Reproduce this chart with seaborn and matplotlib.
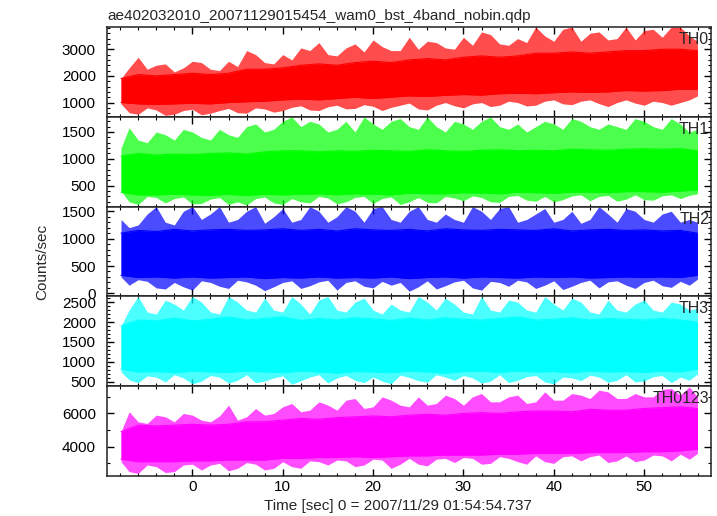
import matplotlib
matplotlib.use("Agg")
import matplotlib.pyplot as plt
from matplotlib.ticker import MultipleLocator
import seaborn as sns
import pandas as pd

title = "ae402032010_20071129015454_wam0_bst_4band_nobin.qdp"
x_label = "Time [sec] 0 = 2007/11/29 01:54:54.737"
y_label = "Counts/sec"

bands = ["TH0", "TH1", "TH2", "TH3", "TH0123"]
colors = ["#ff0000", "#00ff00", "#0000ff", "#00ffff", "#ff00ff"]

# time knots (sec): 1 s for the spike envelope, 2 s for the dense core
time_fine = [-7.9, -7, -6, -5, -4, -3, -2, -1, 0, 1, 2, 3, 4, 5, 6, 7, 8, 9, 10, 11, 12, 13, 14, 15, 16,
             17, 18, 19, 20, 21, 22, 23, 24, 25, 26, 27, 28, 29, 30, 31, 32, 33, 34, 35, 36, 37, 38, 39,
             40, 41, 42, 43, 44, 45, 46, 47, 48, 49, 50, 51, 52, 53, 54, 55, 55.9]
time_core = [-7.9, -6, -4, -2, 0, 2, 4, 6, 8, 10, 12, 14, 16, 18, 20, 22, 24,
             26, 28, 30, 32, 34, 36, 38, 40, 42, 44, 46, 48, 50, 52, 54, 55.9]

# TH0
th0_hi = [1900, 2300, 2700, 2250, 2400, 2450, 2150, 2300, 2550, 2500, 2250, 2200, 2550, 2350, 2950, 2800,
          2500, 2450, 2800, 2600, 3050, 2950, 3250, 2800, 2750, 3050, 3200, 2900, 3350, 3100, 2950, 2950,
          3450, 3000, 3300, 3250, 3050, 3000, 3450, 3150, 3650, 3550, 3200, 3150, 3400, 3250, 3835, 3500,
          3300, 3750, 3835, 3300, 3600, 3650, 3350, 3400, 3835, 3350, 3700, 3750, 3450, 3835, 3835, 3500, 3300]
th0_lo = [950, 620, 560, 800, 720, 520, 560, 700, 750, 540, 600, 700, 780, 620, 600, 800, 760, 640, 700, 820,
          880, 720, 700, 840, 900, 760, 780, 920, 860, 700, 820, 900, 980, 760, 720, 900, 1000, 880, 800, 950,
          1000, 850, 900, 1050, 1000, 870, 900, 1050, 1100, 950, 920, 1050, 1100, 960, 850, 1000, 1100, 980,
          900, 1050, 1000, 900, 1000, 1100, 1250]
th0_core_hi = [1900, 2050, 2000, 2050, 2100, 2050, 2100, 2250, 2250, 2300, 2400, 2450, 2400, 2500, 2550, 2500, 2600,
               2650, 2600, 2700, 2750, 2700, 2750, 2850, 2850, 2900, 2850, 2900, 2950, 2950, 3000, 3000, 2950]
th0_core_lo = [1000, 950, 930, 950, 970, 950, 1000, 1030, 1050, 1100, 1130, 1100, 1150, 1200, 1150, 1200, 1250,
               1230, 1270, 1300, 1280, 1330, 1350, 1330, 1370, 1400, 1380, 1400, 1450, 1430, 1450, 1500, 1500]

# TH1
th1_hi = [1200, 1580, 1350, 1300, 1500, 1450, 1350, 1550, 1500, 1400, 1350, 1550, 1450, 1400, 1600, 1650,
          1500, 1550, 1700, 1780, 1600, 1700, 1650, 1500, 1550, 1700, 1500, 1780, 1650, 1550, 1700, 1750,
          1600, 1550, 1780, 1600, 1500, 1700, 1650, 1550, 1700, 1780, 1600, 1550, 1650, 1500, 1600, 1700,
          1650, 1550, 1750, 1700, 1600, 1550, 1650, 1600, 1550, 1750, 1700, 1600, 1550, 1750, 1650, 1500, 1550]
th1_lo = [400, 200, 150, 300, 280, 180, 260, 290, 160, 170, 250, 280, 150, 200, 140, 260, 290, 180, 150, 260,
          200, 180, 300, 270, 160, 200, 280, 300, 170, 260, 290, 150, 200, 280, 190, 180, 300, 270, 220, 310,
          280, 200, 190, 300, 320, 230, 210, 300, 200, 240, 310, 330, 220, 300, 320, 210, 250, 330, 240, 230,
          310, 330, 260, 320, 350]
th1_core_hi = [1050, 1100, 1070, 1090, 1080, 1100, 1110, 1090, 1130, 1150, 1150, 1130, 1150, 1140, 1160, 1150, 1140,
               1170, 1150, 1140, 1160, 1170, 1150, 1160, 1150, 1180, 1170, 1160, 1180, 1190, 1180, 1190, 1150]
th1_core_lo = [380, 330, 330, 340, 330, 320, 340, 320, 340, 330, 340, 350, 330, 350, 340, 330, 360,
               350, 350, 370, 360, 350, 380, 370, 360, 380, 380, 370, 390, 390, 380, 400, 420]

# TH2
th2_hi = [1350, 1200, 1250, 1450, 1585, 1300, 1250, 1500, 1585, 1350, 1450, 1585, 1300, 1350, 1500, 1585,
          1280, 1400, 1550, 1300, 1350, 1585, 1500, 1300, 1400, 1585, 1500, 1300, 1550, 1585, 1350, 1300,
          1500, 1585, 1350, 1300, 1450, 1350, 1300, 1585, 1500, 1350, 1550, 1585, 1300, 1350, 1450, 1550,
          1300, 1350, 1500, 1280, 1350, 1585, 1450, 1300, 1550, 1500, 1350, 1300, 1450, 1500, 1300, 1350, 1300]
th2_lo = [300, 150, 250, 220, 100, 80, 200, 120, 60, 230, 200, 130, 90, 240, 210, 150, 50, 120, 200, 230,
          90, 140, 210, 240, 60, 200, 230, 130, 100, 220, 150, 200, 40, 120, 230, 80, 140, 210, 240, 100,
          60, 220, 200, 130, 240, 210, 90, 150, 230, 70, 130, 200, 240, 100, 210, 230, 150, 90, 200, 240,
          140, 110, 220, 150, 260]
th2_core_hi = [1100, 1150, 1130, 1170, 1140, 1160, 1170, 1150, 1160, 1180, 1150, 1170, 1140, 1180, 1160, 1150, 1170,
               1140, 1180, 1160, 1150, 1170, 1160, 1150, 1180, 1140, 1160, 1170, 1150, 1160, 1140, 1150, 1100]
th2_core_lo = [330, 290, 300, 280, 300, 280, 290, 300, 270, 290, 280, 300, 280, 290, 280, 300, 270,
               290, 300, 280, 300, 290, 280, 300, 290, 300, 280, 290, 300, 290, 300, 290, 330]

# TH3
th3_hi = [1900, 2300, 2640, 2250, 2200, 2550, 2450, 2300, 2640, 2500, 2250, 2200, 2640, 2500, 2300, 2250,
          2600, 2300, 2250, 2640, 2450, 2200, 2550, 2640, 2300, 2250, 2500, 2600, 2300, 2200, 2450, 2300,
          2250, 2640, 2500, 2300, 2600, 2450, 2250, 2200, 2640, 2300, 2250, 2550, 2500, 2300, 2250, 2640,
          2450, 2300, 2600, 2500, 2250, 2200, 2550, 2300, 2250, 2450, 2550, 2300, 2250, 2500, 2450, 2300, 2350]
th3_lo = [750, 550, 480, 650, 620, 500, 680, 600, 450, 520, 660, 620, 470, 540, 680, 480, 520, 600, 650, 440,
          530, 620, 680, 470, 600, 660, 540, 480, 620, 520, 450, 670, 610, 530, 490, 680, 620, 540, 660, 600,
          470, 520, 680, 480, 540, 630, 660, 500, 450, 620, 600, 530, 670, 620, 490, 540, 680, 500, 520, 630,
          660, 480, 620, 540, 700]
th3_core_hi = [1900, 2050, 2030, 2100, 2030, 2070, 2130, 2050, 2090, 2130, 2040, 2090, 2050, 2110, 2080, 2040, 2100,
               2050, 2110, 2070, 2050, 2090, 2130, 2050, 2070, 2110, 2050, 2090, 2070, 2050, 2090, 2050, 2000]
th3_core_lo = [820, 750, 760, 730, 770, 750, 740, 770, 750, 730, 770, 750, 720, 760, 750, 730, 770,
               750, 720, 760, 770, 740, 770, 750, 760, 730, 770, 750, 760, 740, 770, 750, 820]

# TH0123 (sum of the four bands)
th0123_hi = [4900, 6100, 5500, 5400, 5900, 5800, 5500, 6000, 5900, 5600, 5500, 5850, 6500, 5600, 5800, 6300,
             5900, 6000, 6400, 6600, 6100, 6200, 6700, 6500, 6200, 6800, 6900, 6300, 6400, 7000, 6800, 6500,
             6400, 7000, 6500, 6600, 7100, 6900, 6500, 7000, 7200, 6700, 6700, 7000, 7100, 6600, 6700, 7300,
             6800, 6800, 7200, 7100, 6900, 7400, 7300, 6900, 6900, 7200, 7000, 7000, 7450, 7500, 7100, 7600, 7000]
th0123_lo = [3100, 2500, 2400, 2900, 2800, 2450, 2500, 2900, 2950, 2600, 2900, 3000, 2550, 2700, 3050, 2950,
             2600, 2700, 3100, 2800, 2700, 3150, 3100, 2900, 3200, 3150, 2800, 2900, 3250, 3200, 2700, 2950,
             3300, 2950, 2850, 3250, 3300, 3050, 3350, 3300, 2950, 3000, 3400, 3300, 3100, 2950, 3450, 3100,
             3000, 3400, 3450, 3150, 3400, 3500, 3050, 3150, 3450, 3100, 3200, 3500, 3450, 3150, 3550, 3250, 3600]
th0123_core_hi = [4900, 5300, 5250, 5300, 5350, 5300, 5350, 5500, 5500, 5600, 5700, 5650, 5750, 5800, 5850, 5800, 5900,
                  5950, 5900, 6000, 6050, 6000, 6100, 6150, 6150, 6100, 6250, 6200, 6200, 6300, 6350, 6400, 6300]
th0123_core_lo = [3250, 3100, 3100, 3100, 3150, 3150, 3200, 3200, 3200, 3300, 3300, 3350, 3350, 3400, 3350, 3400, 3450,
                  3450, 3500, 3500, 3500, 3550, 3550, 3600, 3600, 3600, 3650, 3650, 3650, 3700, 3700, 3750, 3850]

y_limits = [(465, 3835), (111, 1783), (-55, 1585), (392, 2642), (2240, 7640)]
y_major = [1000, 500, 500, 500, 2000]
y_minor = [200, 100, 100, 100, 1000]


def draw_panel(ax, name, color, hi, lo, core_hi, core_lo):
    spikes = pd.DataFrame({"time": time_fine, "hi": hi, "lo": lo})
    core = pd.DataFrame({"time": time_core, "core_hi": core_hi, "core_lo": core_lo})
    # spike envelope (lighter) under the dense core
    ax.fill_between(spikes["time"], spikes["lo"], spikes["hi"], color=color, alpha=0.7, lw=0)
    ax.fill_between(core["time"], core["core_lo"], core["core_hi"], color=color, lw=0)
    sns.lineplot(data=core, x="time", y="core_hi", ax=ax, color=color, lw=0.8)
    sns.lineplot(data=core, x="time", y="core_lo", ax=ax, color=color, lw=0.8)
    ax.text(0.997, 0.86, name, transform=ax.transAxes, ha="right", va="center", fontsize=11.5)


def main():
    sns.set_style("ticks")
    plt.rcParams["font.family"] = ["Liberation Sans", "DejaVu Sans"]

    fig, axes = plt.subplots(5, 1, sharex=True, figsize=(7.17, 5.16), dpi=100)
    fig.subplots_adjust(left=107 / 717, right=711 / 717, top=1 - 27 / 516, bottom=1 - 476 / 516, hspace=0)

    series = [
        (th0_hi, th0_lo, th0_core_hi, th0_core_lo),
        (th1_hi, th1_lo, th1_core_hi, th1_core_lo),
        (th2_hi, th2_lo, th2_core_hi, th2_core_lo),
        (th3_hi, th3_lo, th3_core_hi, th3_core_lo),
        (th0123_hi, th0123_lo, th0123_core_hi, th0123_core_lo),
    ]

    for i, ax in enumerate(axes):
        hi, lo, chi, clo = series[i]
        draw_panel(ax, bands[i], colors[i], hi, lo, chi, clo)
        ax.set_ylim(*y_limits[i])
        ax.set_xlim(-9.45, 57.4)
        ax.yaxis.set_major_locator(MultipleLocator(y_major[i]))
        ax.yaxis.set_minor_locator(MultipleLocator(y_minor[i]))
        ax.xaxis.set_major_locator(MultipleLocator(10))
        ax.xaxis.set_minor_locator(MultipleLocator(2))
        ax.tick_params(which="both", direction="in", top=True, right=True, labelsize=11, colors="black")
        ax.tick_params(which="major", length=5, width=1)
        ax.tick_params(which="minor", length=2.5, width=0.8)
        ax.tick_params(axis="y", pad=8)
        ax.tick_params(axis="x", pad=3)
        ax.set_xlabel("")
        ax.set_ylabel("")
        for sp in ax.spines.values():
            sp.set_linewidth(1.1)
            sp.set_color("#222222")
        if i < 4:
            ax.tick_params(labelbottom=False)

    axes[0].set_title(title, loc="left", fontsize=11, pad=5)
    fig.text(398 / 717, 1 - 506 / 516, x_label, ha="center", va="center", fontsize=11)
    fig.text(42 / 717, 1 - 262 / 516, y_label, ha="center", va="center", rotation=90, fontsize=11)

    plt.savefig("out.png", dpi=100)


if __name__ == "__main__":
    main()
